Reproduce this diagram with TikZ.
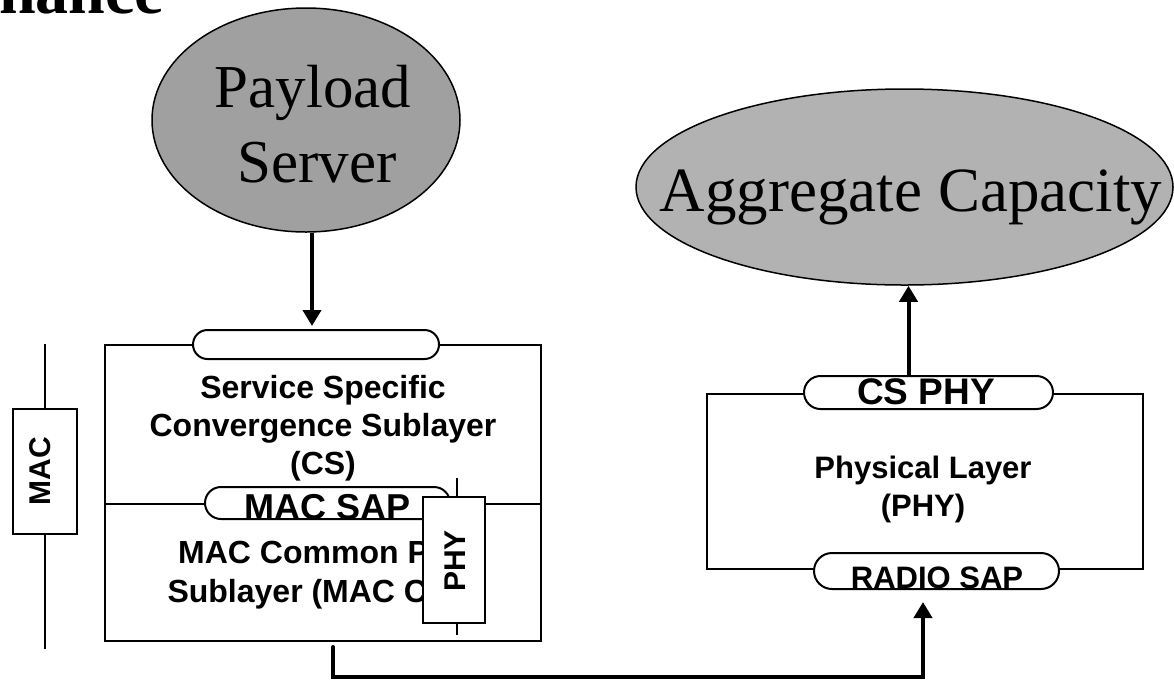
\documentclass[tikz,border=0pt]{standalone}
\usepackage{fontspec}
\setmainfont{Liberation Serif}
\newfontfamily\arialfont{Liberation Sans}
\usetikzlibrary{shapes.geometric,shapes.misc,arrows.meta}
\definecolor{serverfill}{HTML}{A0A0A0}
\definecolor{capfill}{HTML}{B2B2B2}
\tikzset{
  bubble/.style={ellipse, draw, line width=1.5pt, inner sep=0},
  layerbox/.style={rectangle, draw, line width=2pt, inner sep=0},
  pill/.style={rounded rectangle, draw, line width=2pt, fill=white, inner sep=0},
  sidebox/.style={rectangle, draw, line width=2pt, fill=white, inner sep=0},
  thinline/.style={line width=2pt},
  flow/.style={line width=4pt, -{Triangle[width=18pt,length=16pt]}},
  serif/.style={inner sep=0, anchor=base, font=\fontsize{#1}{#1}\selectfont},
  sans/.style={inner sep=0, anchor=base, font=\arialfont\bfseries\fontsize{#1}{#1}\selectfont},
}
\begin{document}
\begin{tikzpicture}[x=1pt,y=-1pt]
\useasboundingbox (0,0) rectangle (1174,681);
\clip (0,0) rectangle (1174,681);

% heading, partly above the frame
\node[inner sep=0, anchor=base west, font=\bfseries\fontsize{66}{66}\selectfont] (heading) at (-1,13) {nance};

% ellipses
\node[bubble, fill=serverfill, minimum width=308, minimum height=224] (ps) at (306,120) {};
\node[serif=61] (ps1) at (313,107) {Payload};
\node[serif=61] (ps2) at (317,182) {Server};

\node[bubble, fill=capfill, minimum width=537, minimum height=196] (agg) at (904.5,187) {};
\node[serif=63] (aggtext) at (911,211) {Aggregate Capacity};

% MAC stack
\node[layerbox, minimum width=436, minimum height=159] (cs) at (323,424.5) {};
\node[layerbox, minimum width=436, minimum height=137] (cps) at (323,572.5) {};
\node[pill, minimum width=246, minimum height=29] (toppill) at (316,344.5) {};
\node[pill, minimum width=245, minimum height=32] (macsap) at (327.5,503) {};

\node[sans=32] (cs1) at (323,398) {Service Specific};
\node[sans=32] (cs2) at (323,436) {Convergence Sublayer};
\node[sans=32] (cs3) at (323,474) {(CS)};
\node[sans=36] (macsaptext) at (327.5,519) {MAC SAP};
\node[sans=32] (cps1) at (324,563) {MAC Common Part};
\node[sans=32] (cps2) at (324,602) {Sublayer (MAC CPS)};

% side markers
\coordinate (mactop) at (45,344);
\coordinate (macbot) at (45,649);
\draw[thinline] (mactop) -- (macbot);
\node[sidebox, minimum width=64, minimum height=125] (mac) at (45,471.5) {};
\node[sans=30, rotate=90] (mactext) at (50,471) {MAC};

\coordinate (phytop) at (457,478);
\coordinate (phybot) at (457,635);
\draw[thinline] (phytop) -- (phybot);
\node[sidebox, minimum width=62, minimum height=126] (phy) at (454,560) {};
\node[sans=30, rotate=90] (phytext) at (465,561) {PHY};

% physical layer
\node[layerbox, minimum width=436, minimum height=175] (pl) at (925,481.5) {};
\node[pill, minimum width=249, minimum height=33] (csphy) at (928.5,392.5) {};
\node[pill, minimum width=245, minimum height=36] (radio) at (936.5,571) {};
\node[sans=37] (csphytext) at (926,404) {CS PHY};
\node[sans=31] (radiotext) at (937,588) {RADIO SAP};
\node[sans=31] (pl1) at (923,478) {Physical Layer};
\node[sans=31] (pl2) at (923,516) {(PHY)};

% data flow
\draw[flow] ([xshift=6pt]ps.south) -- ([xshift=-4pt,yshift=3pt]toppill.north);
\draw[flow] ([xshift=-20pt]csphy.north) -- ([xshift=4pt]agg.south);
\coordinate (cpsout) at (333,647);
\coordinate (radioin) at (923,602);
\draw[flow, line cap=round] (cpsout) -- ++(0,30) -| (radioin);
\end{tikzpicture}
\end{document}
